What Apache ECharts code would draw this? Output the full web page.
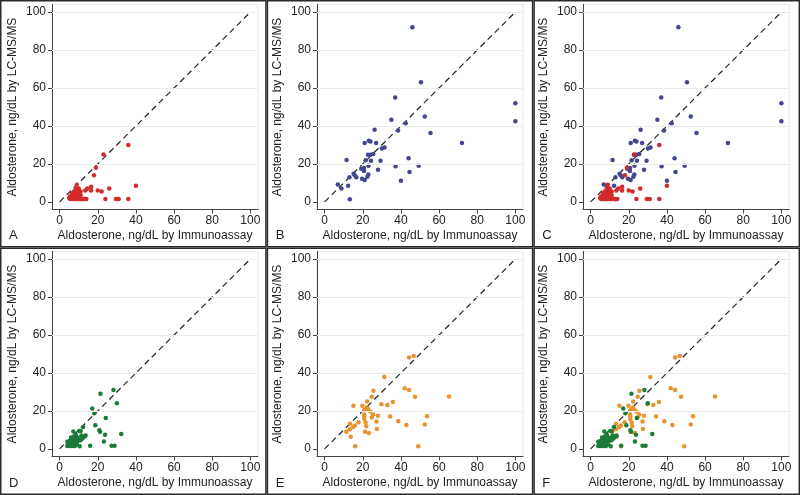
<!DOCTYPE html>
<html><head><meta charset="utf-8">
<script src="https://cdn.jsdelivr.net/npm/echarts@6/dist/echarts.min.js"></script>
<style>html,body{margin:0;padding:0;background:#fff}#c{width:800px;height:495px}</style>
</head><body><div id="c"></div>
<script>
// Red group (panel A)
const groupRed = [[36,30],[23,25],[19,18],[18,14],[40,8.5],[26,7],[20,6],[22,5.5],[16.5,8],[16.5,6],[14.5,7],[13.5,6],[14,1.5],[13,1.5],[24,1.5],[29.5,1.5],[31,1.5],[36,1.5],[11,5.5],[11,3.5],[10,7],[9,9],[8.5,7],[9.5,5.5],[8,5],[7.5,4],[7,3],[6.5,2.5],[6,2],[5.5,3],[5,2],[5.5,1.5],[6.5,1.5],[7,1.5],[8,1.5],[9,1.5],[10,1.5],[11,1.5],[12,1.5],[8,2.5],[9,3.5],[10,4],[7.5,5.5],[6.5,4.5],[9.5,2.5],[8.5,6],[10.5,2.5],[7,2.5]];
// Blue group (panel B)
const groupBlue = [[46,92],[50.5,63],[37,55],[52.5,45],[100,52],[100,42.5],[35,43.3],[42.5,41.5],[38.5,37.6],[26.2,38],[55.5,36.3],[72,31],[21,31],[23.2,32.2],[24,31.8],[27,31],[30,28.2],[31.4,28.7],[44,23],[11.5,22.1],[22.7,24.8],[24,24.8],[25.5,25.2],[21.5,22],[24.3,21.7],[29.3,21.7],[37.2,18.8],[44.5,15.7],[49.3,19.1],[28,16.9],[23,19],[19.2,17.5],[20.6,17.9],[20.6,16.3],[22.9,14.4],[22.4,13.2],[19.6,12.2],[21,11.6],[15.2,14.8],[15.8,14],[16.6,13],[13,13],[12.3,8.5],[6.9,9.2],[8.8,7.1],[13.2,1.4],[40,11.2]];
// Green group (panel D)
const groupGreen = [[28.2,31],[21.4,29],[30,24],[17.1,21.3],[18.2,18.8],[24.2,16.3],[18.7,12.4],[12.3,11.5],[32.3,7.8],[23.8,7.5],[20.8,9.8],[21.2,9],[13.6,7.1],[13.1,6.6],[23.2,3.9],[16,1.6],[27.2,1.6],[28.8,1.6],[10.3,9.4],[11,9.4],[7.2,9.2],[10,5.8],[10.5,1.4],[11.5,7],[9,6],[8,5],[7,4],[6,3],[5,2],[4,1.5],[4,3.8],[5,4],[6,1.5],[7,1.5],[8,1.5],[9,2.5],[6.5,5.5],[7.5,6.5],[8.5,3.5],[5.5,2.5],[9.5,4],[4.5,2.5],[6,6],[12,5.5],[11,4.5],[8.5,7.5],[7,2.5],[5,1.5]];
// Orange group (panel E)
const groupOrange = [[44.3,48.1],[46.7,49],[31.3,37.9],[25.6,30.7],[42,31.9],[44.3,31],[47.4,27.5],[65.2,27.6],[24.7,27.5],[22.3,25],[19.8,22.8],[15.1,22.7],[29.8,23.5],[32.9,23.1],[35.8,24.7],[22.2,21.8],[22.7,21],[24,19.7],[21,20.7],[20.8,18.1],[20.8,16.9],[25.4,18.1],[27.9,17.5],[24.7,16.6],[34.3,17.1],[53.7,17.2],[52.5,12.8],[27.2,14.5],[38.6,14.6],[42.9,12.6],[17.8,14.1],[21.5,13.9],[21.8,12],[15.9,12.3],[14.9,11.5],[13.3,13.2],[13.2,10.4],[11.4,9.1],[21.2,9.1],[23.2,8.4],[27.4,10.5],[13.7,6.4],[16,1.4],[49.1,1.4],[20.8,15.7]];

const tickValues = [0,20,40,60,80,100];
const gridValues = [20,40,60,80,100];
const diagonal = [[0,0],[100,100]];
const xTitle = 'Aldosterone, ng/dL by Immunoassay';
const yTitle = 'Aldosterone, ng/dL by LC-MS/MS';
const letters = ['A','B','C','D','E','F'];

const colors = {red:'#d42a2c', blue:'#41478f', green:'#1b7c3a', orange:'#e8932f'};
const panelLayers = [
  [['red', groupRed]],
  [['blue', groupBlue]],
  [['blue', groupBlue], ['red', groupRed]],
  [['green', groupGreen]],
  [['orange', groupOrange]],
  [['orange', groupOrange], ['green', groupGreen]]
];

const FONT = '"Liberation Sans", Arial, Helvetica, sans-serif';
const colLeft = [52, 317, 583];
const rowTop = [4.5, 251.5];
const gw = 206, gh = 205;

const grids = [], xAxes = [], yAxes = [], series = [], graphics = [];
for (let i = 0; i < 6; i++) {
  const c = i % 3, r = Math.floor(i / 3);
  grids.push({left: colLeft[c], top: rowTop[r], width: gw, height: gh, show: true, borderColor: '#e6e6e6', borderWidth: 1, backgroundColor: '#fff'});
  const common = {
    gridIndex: i, type: 'value', min: -4, max: 104,
    axisLine: {show: true, onZero: false, lineStyle: {color: '#444', width: 1}},
    axisTick: {show: true, length: 4, customValues: tickValues, lineStyle: {color: '#444'}},
    axisLabel: {customValues: tickValues, color: '#222', fontSize: 12, fontFamily: FONT},
    splitLine: {show: false},
    nameLocation: 'middle',
    nameTextStyle: {color: '#222', fontSize: 12, fontFamily: FONT}
  };
  xAxes.push(Object.assign({}, common, {name: xTitle, nameGap: 20, axisLabel: Object.assign({}, common.axisLabel, {margin: 5})}));
  yAxes.push(Object.assign({}, common, {name: yTitle, nameGap: 33, axisLabel: Object.assign({}, common.axisLabel, {margin: 6})}));
  series.push({
    type: 'line', xAxisIndex: i, yAxisIndex: i, data: diagonal, symbol: 'none', silent: true, z: 1,
    lineStyle: {color: '#222', width: 1.2, type: [6, 4]},
    markLine: {silent: true, symbol: 'none', label: {show: false}, animation: false,
      lineStyle: {color: '#ececec', type: 'solid', width: 1},
      data: gridValues.map(v => ({yAxis: v}))}
  });
  panelLayers[i].forEach(([col, data], k) => {
    series.push({type: 'scatter', xAxisIndex: i, yAxisIndex: i, data: data, symbolSize: 4.5, z: 2 + k,
      itemStyle: {color: colors[col], opacity: 1}});
  });
  graphics.push({type: 'rect', shape: {x: c * 266.67 + 0.75, y: r * 247.5 + 0.75, width: 265.2, height: 246}, style: {fill: 'none', stroke: '#2a2a2a', lineWidth: 1.5}, z: 10});
  graphics.push({type: 'text', x: c * 266.67 + 9, y: r * 247.5 + 229, style: {text: letters[i], fill: '#222', font: '13px ' + FONT}, z: 10});
}

const chart = echarts.init(document.getElementById('c'), null, {renderer: 'canvas'});
chart.setOption({
  animation: false,
  backgroundColor: '#fff',
  grid: grids, xAxis: xAxes, yAxis: yAxes, series: series, graphic: graphics
});
</script></body></html>
